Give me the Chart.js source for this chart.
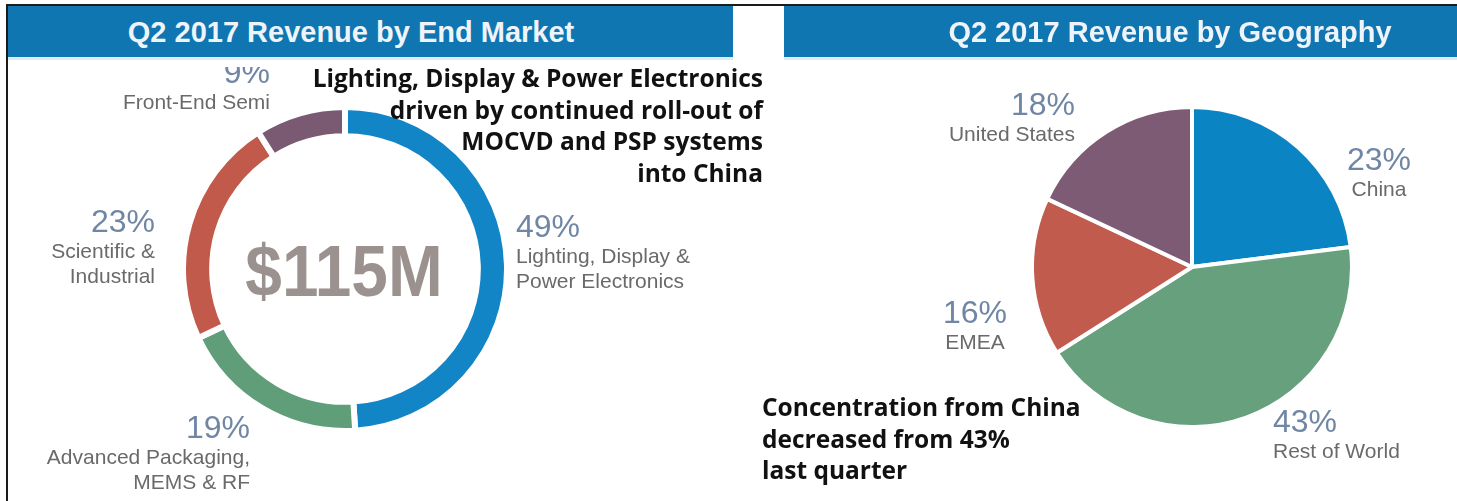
<!DOCTYPE html>
<html>
<head>
<meta charset="utf-8">
<script src="https://cdn.jsdelivr.net/npm/chart.js@4.4.1/dist/chart.umd.min.js"></script>
<style>
  html, body { margin: 0; padding: 0; background: #fff; }
  #page { position: relative; width: 1457px; height: 501px; overflow: hidden; font-family: "Liberation Sans", Arial, sans-serif; }
  .rule-top { position: absolute; left: 6px; top: 4px; right: 0; height: 2px; background: #1b1b1b; }
  .rule-left { position: absolute; left: 6px; top: 4px; bottom: 0; width: 2px; background: #1b1b1b; }
  .panel { position: absolute; left: 0; top: 0; width: 1457px; height: 501px; filter: blur(0.5px); }
  .header { position: absolute; top: 6px; height: 51px; background: #0f76b2; border-bottom: 3px solid #dfebf4; }
  .header span { position: absolute; top: 12px; transform: translateX(-50%); white-space: nowrap; color: #eef4f9; font-weight: bold; font-size: 29px; line-height: 1; }
  .body { position: absolute; left: 8px; top: 67px; width: 1449px; height: 434px; overflow: hidden; }
  .body > * { position: absolute; }
  .label { white-space: nowrap; }
  .label .pct { font-size: 32px; line-height: 34px; color: #6f86a5; }
  .label .name { font-size: 21px; line-height: 25px; color: #6b6969; }
  .total { font-weight: bold; font-size: 73px; line-height: 1; color: #9b928f; white-space: nowrap; }
  .note { position: absolute; font-family: "Open Sans", sans-serif; font-weight: 700; font-size: 24.5px; line-height: 31.5px; color: #111; white-space: nowrap; }
</style>
</head>
<body>
<div id="page">
  <div class="panel">
    <div class="header" style="left:8px; width:725px;"><span id="titleLeft" style="left:343px;"></span></div>
    <div class="header" style="left:784px; width:673px;"><span id="titleRight" style="left:386px;"></span></div>
    <div class="body" id="body">
      <canvas id="market" width="330" height="330" style="left:172px; top:37px;"></canvas>
      <canvas id="geo" width="324" height="324" style="left:1022px; top:38px;"></canvas>
    </div>
  </div>
  <div class="rule-top"></div>
  <div class="rule-left"></div>
  <div class="note" id="noteMarket" style="left:763px; top:62px; transform:translateX(-100%); text-align:right;"></div>
  <div class="note" id="noteGeo" style="left:762px; top:391px;"></div>
</div>
<script>
// Q2 2017 revenue split by end market (doughnut, clockwise from 12 o'clock)
const marketNames = [
  ['Lighting, Display &', 'Power Electronics'],
  ['Advanced Packaging,', 'MEMS & RF'],
  ['Scientific &', 'Industrial'],
  ['Front-End Semi']
];
const marketShares = [49, 19, 23, 9];
const marketTotal = '$115M';

// Q2 2017 revenue split by geography (pie, clockwise from 12 o'clock)
const geoNames = [['China'], ['Rest of World'], ['EMEA'], ['United States']];
const geoShares = [23, 43, 16, 18];

const titles = ['Q2 2017 Revenue by End Market', 'Q2 2017 Revenue by Geography'];
const notes = [
  ['Lighting, Display & Power Electronics', 'driven by continued roll-out of', 'MOCVD and PSP systems', 'into China'],
  ['Concentration from China', 'decreased from 43%', 'last quarter']
];

const marketColors = ['#1185c6', '#5f9e78', '#c15a4b', '#7a5a73'];
const geoColors = ['#0b84c4', '#66a07d', '#c05b4d', '#7d5b75'];

// where each callout block sits inside the panel body (x anchor, top, alignment)
const marketSpots = [
  { x: 508, y: 142, align: 'left' },
  { x: 242, y: 343, align: 'right' },
  { x: 147, y: 137, align: 'right' },
  { x: 262, y: -12, align: 'right' }
];
const geoSpots = [
  { x: 1371, y: 75, align: 'center' },
  { x: 1265, y: 337, align: 'left' },
  { x: 967, y: 228, align: 'center' },
  { x: 1067, y: 20, align: 'right' }
];

document.getElementById('titleLeft').textContent = titles[0];
document.getElementById('titleRight').textContent = titles[1];
document.getElementById('noteMarket').innerHTML = notes[0].join('<br>');
document.getElementById('noteGeo').innerHTML = notes[1].join('<br>');

const body = document.getElementById('body');
const shift = { left: '0', right: '-100%', center: '-50%' };

function addLabels(names, shares, spots) {
  names.forEach((lines, i) => {
    const s = spots[i];
    const el = document.createElement('div');
    el.className = 'label';
    el.style.left = s.x + 'px';
    el.style.top = s.y + 'px';
    el.style.textAlign = s.align;
    el.style.transform = 'translateX(' + shift[s.align] + ')';
    el.innerHTML = '<div class="pct">' + shares[i] + '%</div>' +
      lines.map(l => '<div class="name">' + l.replace('&', '&amp;') + '</div>').join('');
    body.appendChild(el);
  });
}
addLabels(marketNames, marketShares, marketSpots);
addLabels(geoNames, geoShares, geoSpots);

const total = document.createElement('div');
total.className = 'total';
total.textContent = marketTotal;
total.style.left = '336px';
total.style.top = '167px';
total.style.transform = 'translateX(-50%) scaleX(0.9)';
body.appendChild(total);

const baseOptions = {
  responsive: false,
  animation: false,
  events: [],
  layout: { padding: 0 },
  plugins: { legend: { display: false }, tooltip: { enabled: false } }
};

new Chart(document.getElementById('market'), {
  type: 'doughnut',
  data: {
    labels: marketNames.map(n => n.join(' ')),
    datasets: [{
      data: marketShares,
      backgroundColor: marketColors,
      borderColor: '#ffffff',
      borderWidth: 6
    }]
  },
  options: { ...baseOptions, cutout: '82%' }
});

new Chart(document.getElementById('geo'), {
  type: 'pie',
  data: {
    labels: geoNames.map(n => n.join(' ')),
    datasets: [{
      data: geoShares,
      backgroundColor: geoColors,
      borderColor: '#ffffff',
      borderWidth: 4
    }]
  },
  options: baseOptions
});
</script>
</body>
</html>
